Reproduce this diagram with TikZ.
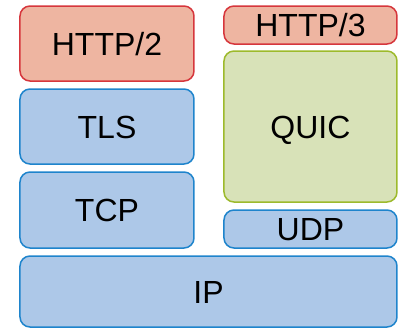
\documentclass[tikz,border=0pt]{standalone}
\usepackage{fontspec}
\setmainfont{Liberation Sans}
\usepackage{tikz}
\usetikzlibrary{positioning}

\definecolor{httpfill}{RGB}{238,181,161}
\definecolor{httpline}{RGB}{214,54,60}
\definecolor{netfill}{RGB}{173,200,232}
\definecolor{netline}{RGB}{30,132,204}
\definecolor{quicfill}{RGB}{216,226,184}
\definecolor{quicline}{RGB}{157,186,44}

\tikzset{
    layer/.style={rectangle, rounded corners=5pt, line width=0.75pt, inner sep=0pt, text height=11.5pt, text depth=0pt, font=\fontsize{16}{19}\selectfont},
    httplayer/.style={layer, draw=httpline, fill=httpfill},
    netlayer/.style={layer, draw=netline, fill=netfill},
    quiclayer/.style={layer, draw=quicline, fill=quicfill}
}

\begin{document}
\begin{tikzpicture}[x=0.5pt,y=-0.5pt]
        \useasboundingbox (0,0) rectangle (398,329);

        %%% HTTP/2 stack
        \node[httplayer, minimum width=87pt, minimum height=37.5pt] (http2) at (107,43.5) {HTTP/2};
        \node[netlayer, minimum width=87pt, minimum height=37.5pt] (tls) at (107,126.5) {TLS};
        \node[netlayer, minimum width=87pt, minimum height=38pt] (tcp) at (107,210) {TCP};

        %%% HTTP/3 stack
        \node[httplayer, minimum width=86.5pt, minimum height=19pt] (http3) at (310.5,25) {HTTP/3};
        \node[quiclayer, minimum width=86.5pt, minimum height=75.5pt] (quic) at (310.5,126.5) {QUIC};
        \node[netlayer, minimum width=86.5pt, minimum height=19pt] (udp) at (310.5,229) {UDP};

        %%% Shared
        \node[netlayer, minimum width=188.5pt, minimum height=35.5pt] (ip) at (208.5,291.5) {IP};
    \end{tikzpicture}
\end{document}
